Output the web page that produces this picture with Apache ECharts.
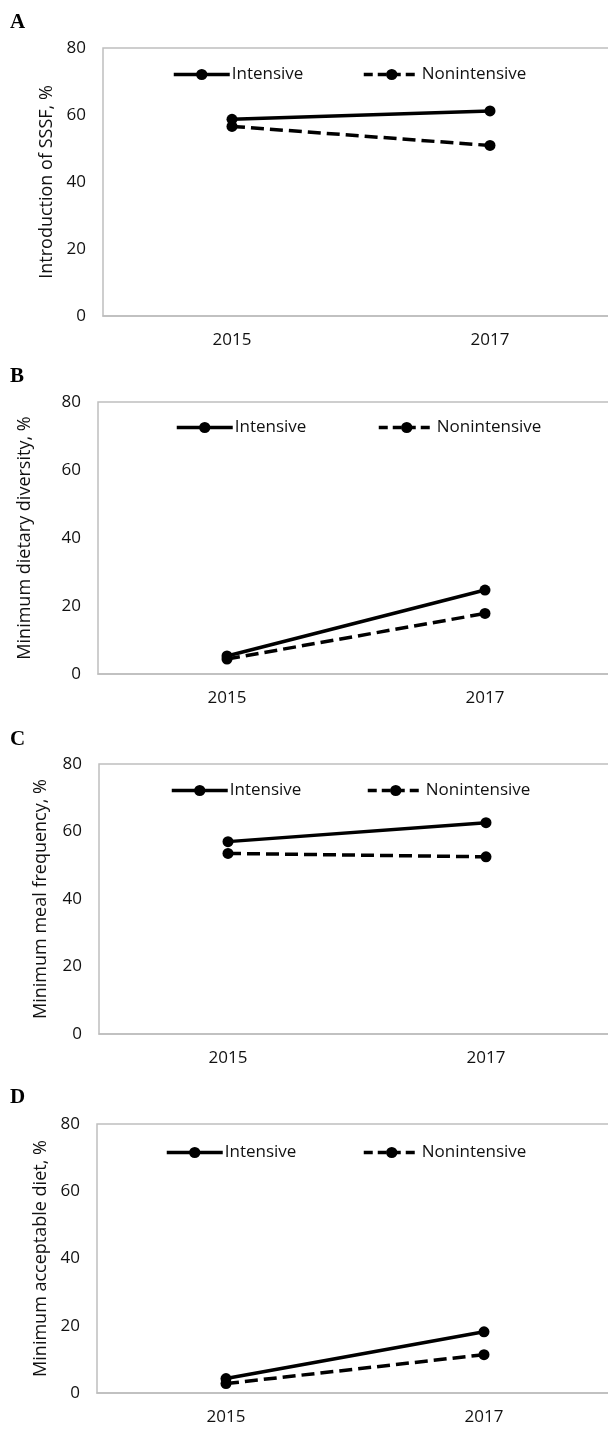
<!DOCTYPE html>
<html>
<head>
<meta charset="utf-8">
<script src="https://cdn.jsdelivr.net/npm/echarts@6/dist/echarts.min.js"></script>
<style>
  html, body { margin: 0; padding: 0; background: #fff; }
  #chart { width: 608px; height: 1429px; }
</style>
</head>
<body>
<div id="chart"></div>
<script>
var years = ['2015', '2017'];
var yTicks = [0, 20, 40, 60, 80];
var panelLabels = ['A', 'B', 'C', 'D'];
var yNames = [
  'Introduction of SSSF, %',
  'Minimum dietary diversity, %',
  'Minimum meal frequency, %',
  'Minimum acceptable diet, %'
];

// values (%)
var intensiveA = [58.7, 61.2];
var nonintensiveA = [56.6, 50.9];
var intensiveB = [5.3, 24.7];
var nonintensiveB = [4.4, 17.8];
var intensiveC = [57.0, 62.6];
var nonintensiveC = [53.5, 52.5];
var intensiveD = [4.3, 18.2];
var nonintensiveD = [2.8, 11.4];

var intensive = [intensiveA, intensiveB, intensiveC, intensiveD];
var nonintensive = [nonintensiveA, nonintensiveB, nonintensiveC, nonintensiveD];

// layout of each panel
var panels = [
  { left: 103, top: 48, height: 268, nameGap: 46, labelTop: 12, legTop: 74, leg1: 172, leg2: 362 },
  { left: 98, top: 402, height: 272, nameGap: 64, labelTop: 366, legTop: 427, leg1: 175, leg2: 377 },
  { left: 99, top: 764, height: 270, nameGap: 49, labelTop: 729, legTop: 790, leg1: 170, leg2: 366 },
  { left: 97, top: 1124, height: 269, nameGap: 43, labelTop: 1087, legTop: 1152, leg1: 165, leg2: 362 }
];

var font = 'Open Sans';
var grids = [], xAxes = [], yAxes = [], series = [], legends = [], titles = [];

panels.forEach(function (p, i) {
  grids.push({
    left: p.left, top: p.top, height: p.height, width: 516,
    outerBoundsMode: 'none', containLabel: false,
    show: true, borderColor: '#bfbfbf', borderWidth: 1.5, backgroundColor: 'transparent'
  });
  xAxes.push({
    type: 'category', gridIndex: i, data: years, boundaryGap: true,
    axisLine: { lineStyle: { color: '#bfbfbf', width: 1.5 } },
    axisTick: { show: false },
    axisLabel: { color: '#111', fontFamily: font, fontSize: 17, margin: 16 }
  });
  yAxes.push({
    type: 'value', gridIndex: i, min: yTicks[0], max: yTicks[yTicks.length - 1], interval: 20,
    splitLine: { show: false },
    axisLine: { show: false },
    axisTick: { show: false },
    axisLabel: { color: '#111', fontFamily: font, fontSize: 17, margin: 17 },
    name: yNames[i], nameLocation: 'middle', nameGap: p.nameGap,
    nameTextStyle: { color: '#111', fontFamily: font, fontSize: 18 }
  });
  series.push({
    name: 'Intensive', type: 'line', xAxisIndex: i, yAxisIndex: i,
    data: intensive[i], symbol: 'circle', symbolSize: 11,
    lineStyle: { color: '#000', width: 3.5 }, itemStyle: { color: '#000' }
  });
  series.push({
    name: 'Nonintensive', type: 'line', xAxisIndex: i, yAxisIndex: i,
    data: nonintensive[i], symbol: 'circle', symbolSize: 11,
    lineStyle: { color: '#000', width: 3.5, type: [13, 6] }, itemStyle: { color: '#000' }
  });
  legends.push({
    data: ['Intensive'], left: p.leg1, top: p.legTop - 8, itemWidth: 56, itemHeight: 14, itemGap: 4,
    lineStyle: { width: 3.5 },
    textStyle: { color: '#111', fontFamily: font, fontSize: 17, padding: [0, 0, 0, -3] },
    padding: 0, selectedMode: false
  });
  legends.push({
    data: ['Nonintensive'], left: p.leg2, top: p.legTop - 8, itemWidth: 56, itemHeight: 14, itemGap: 4,
    lineStyle: { width: 3.5, type: [9, 5] },
    textStyle: { color: '#111', fontFamily: font, fontSize: 17, padding: [0, 0, 0, -3] },
    padding: 0, selectedMode: false
  });
  titles.push({
    text: panelLabels[i], left: 10, top: p.labelTop, padding: 0,
    textStyle: { fontFamily: 'Liberation Serif', fontWeight: 'bold', fontSize: 21, color: '#000' }
  });
});

var chart = echarts.init(document.getElementById('chart'));
chart.setOption({
  animation: false,
  title: titles,
  legend: legends,
  grid: grids,
  xAxis: xAxes,
  yAxis: yAxes,
  series: series
});
</script>
</body>
</html>
